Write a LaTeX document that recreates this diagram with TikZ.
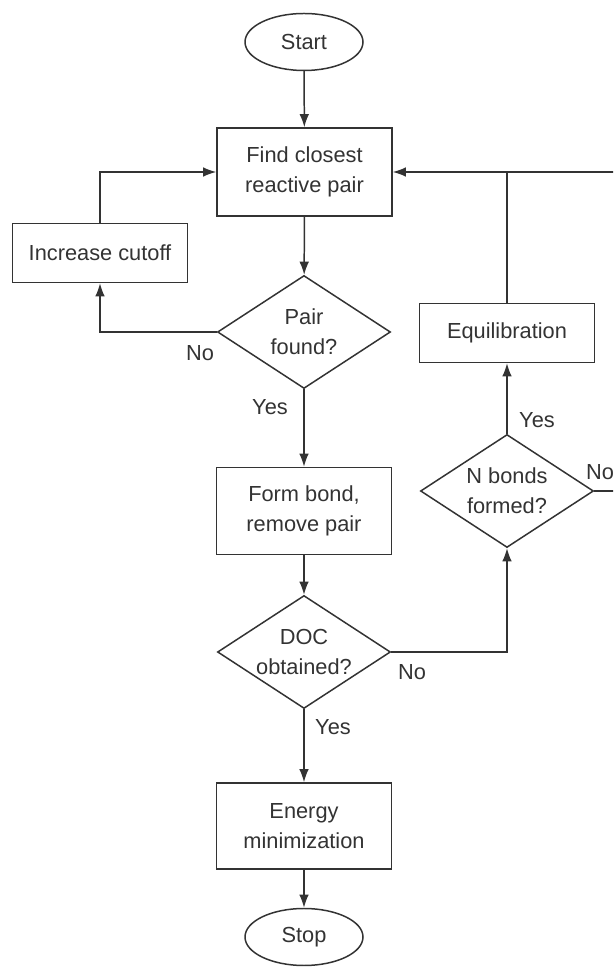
\documentclass[tikz,border=0pt]{standalone}
\usepackage{fontspec}
\setmainfont{Liberation Sans}
\usetikzlibrary{shapes.geometric,arrows.meta}

\tikzset{
  proc/.style={draw, minimum width=3.5cm, align=center},
  term/.style={draw, ellipse, minimum width=2.36cm, minimum height=1.14cm},
  decide/.style={draw, diamond, aspect=1.52, inner sep=0pt, minimum width=3.46cm, minimum height=2.26cm, align=center},
  flow/.style={-{Latex[length=7.5pt,width=5.5pt]}},
  ans/.style={inner sep=1pt}
}

\begin{document}
\begin{tikzpicture}[line width=0.85pt, color=black!80, font=\fontsize{12.4}{17}\selectfont]
\useasboundingbox (0,0) rectangle (12.26,19.36);
\clip (0,0) rectangle (12.26,19.36);

% main column
\node[term] (start) at (6.08,18.52) {Start};
\node[proc, minimum height=1.76cm] (find) at (6.09,15.92) {Find closest\\reactive pair};
\node[proc, minimum height=1.18cm] (inc) at (2.0,14.3) {Increase cutoff};
\node[decide] (pair) at (6.08,12.72) {Pair\\found?};
\node[proc, minimum height=1.74cm] (form) at (6.08,9.14) {Form bond,\\remove pair};
\node[decide] (doc) at (6.08,6.32) {DOC\\obtained?};
\node[proc, minimum height=1.72cm] (energy) at (6.08,2.84) {Energy\\minimization};
\node[term] (stop) at (6.08,0.62) {Stop};

% right column
\node[proc, minimum height=1.18cm] (equil) at (10.14,12.7) {Equilibration};
\node[decide] (nbonds) at (10.14,9.54) {N bonds\\formed?};
\coordinate (loop) at (12.6,15.92);

\draw[flow] (start) -- (find);
\draw[flow] (find) -- (pair);
\draw[flow] (pair) -- (form);
\draw[flow] (form) -- (doc);
\draw[flow] (doc) -- (energy);
\draw[flow] (energy) -- (stop);

% loops back to the search
\draw[flow] (pair.west) -| (inc.south);
\draw[flow] (inc.north) |- (find.west);
\draw[flow] (doc.east) -| (nbonds.south);
\draw[flow] (nbonds) -- (equil);
\draw[flow] (nbonds.east) -| (loop) -- (find.east);
\draw (equil.north) -- (equil.north |- find.east);

% answers
\node[ans] (pairno) at (4.0,12.3) {No};
\node[ans] (pairyes) at (5.4,11.22) {Yes};
\node[ans] (docno) at (8.24,5.92) {No};
\node[ans] (docyes) at (6.66,4.82) {Yes};
\node[ans] (nbyes) at (10.74,10.96) {Yes};
\node[ans] (nbno) at (12.0,9.92) {No};
\end{tikzpicture}
\end{document}
